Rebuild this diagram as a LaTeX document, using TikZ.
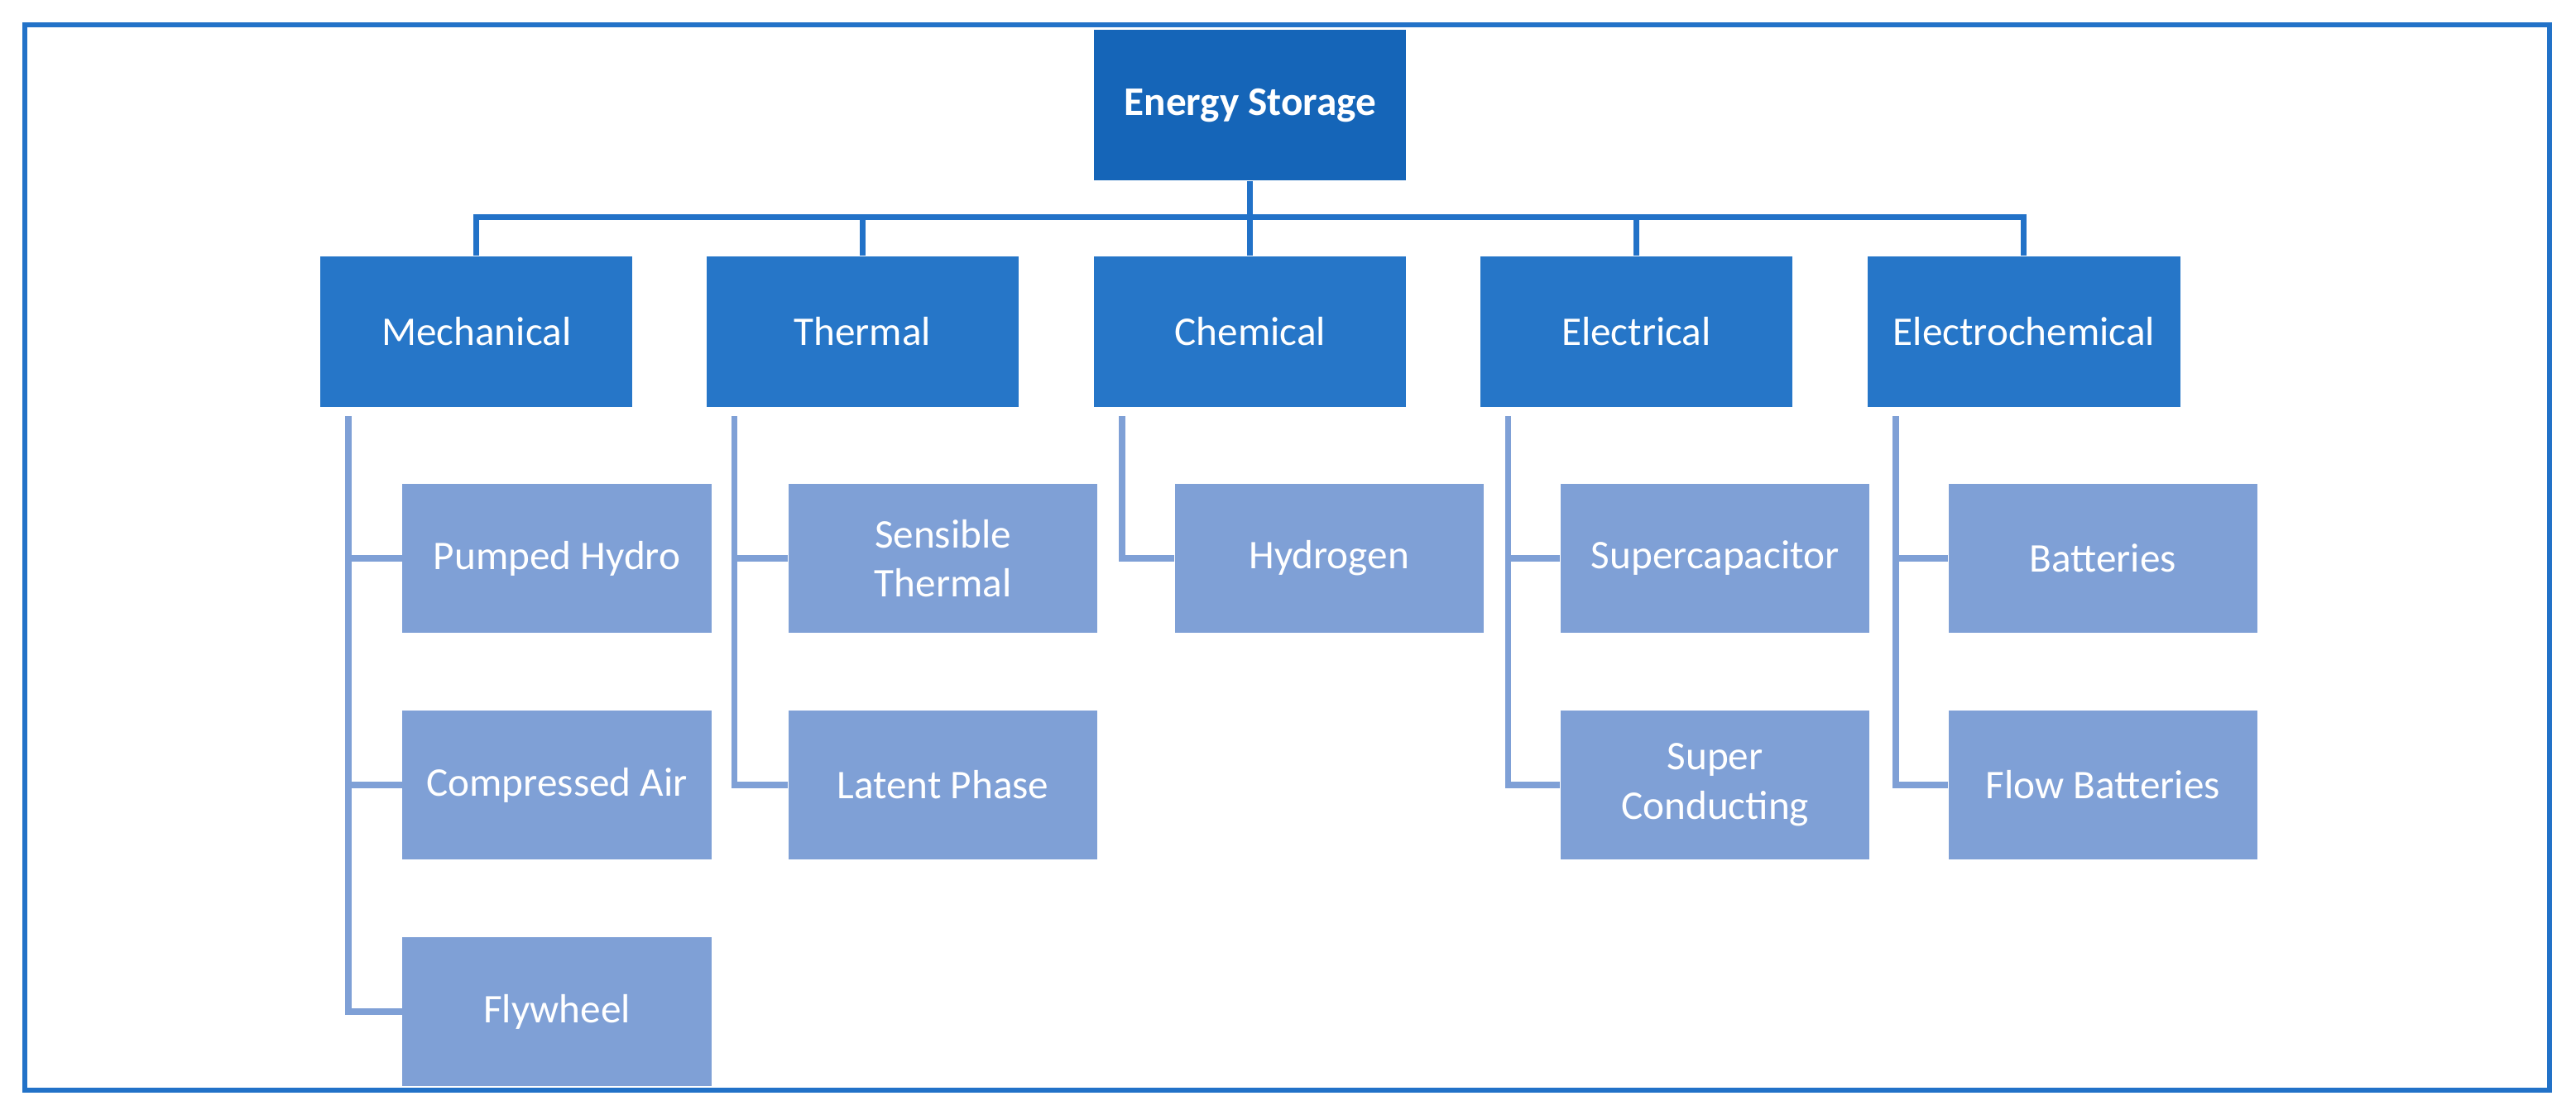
\documentclass[tikz,border=0pt]{standalone}
\usepackage{fontspec}
\setmainfont{Carlito}
\definecolor{rootblue}{HTML}{1565B8}
\definecolor{catblue}{HTML}{2676C8}
\definecolor{subblue}{HTML}{7FA0D6}
\definecolor{lineblue}{HTML}{2272C8}
\tikzset{
  root/.style={fill=rootblue, text=white, minimum width=190*0.01985cm, minimum height=92*0.01985cm, inner sep=0pt, font=\fontsize{14}{17}\selectfont\bfseries},
  cat/.style={fill=catblue, text=white, minimum width=190*0.01985cm, minimum height=92*0.01985cm, inner sep=0pt, font=\fontsize{14}{17}\selectfont},
  sub/.style={fill=subblue, text=white, minimum width=188*0.01985cm, minimum height=91*0.01985cm, inner sep=0pt, align=center, font=\fontsize{14}{17}\selectfont},
  bus/.style={lineblue, line width=2pt},
  spine/.style={subblue, line width=2.2pt}
}
\begin{document}
\begin{tikzpicture}[x=0.01985cm, y=-0.01985cm]
  \useasboundingbox (0,0) rectangle (1568,678.5);
  \draw [lineblue, line width=1.7pt] (15,15) rectangle (1552,664); % Frame.

  \node [root] (es) at (761,64) {Energy Storage};
  \node [cat] (mech) at (290,202) {Mechanical};
  \node [cat] (therm) at (525,202) {Thermal};
  \node [cat] (chem) at (761,202) {Chemical};
  \node [cat] (elec) at (996,202) {Electrical};
  \node [cat] (echem) at (1232,202) {Electrochemical};

  \coordinate (hub) at (761,132);
  \draw [bus] (es.south) -- (hub);
  \foreach \c in {mech,therm,chem,elec,echem}
    \draw [bus] (hub) -| (\c.north);

  \node [sub] (pumped) at (339,340) {Pumped Hydro};
  \node [sub] (air) at (339,478) {Compressed Air};
  \node [sub] (fly) at (339,616) {Flywheel};
  \node [sub] (sens) at (574,340) {Sensible\\Thermal};
  \node [sub] (latent) at (574,478) {Latent Phase};
  \node [sub] (hydro) at (809,340) {Hydrogen};
  \node [sub] (supcap) at (1044,340) {Supercapacitor};
  \node [sub] (supcon) at (1044,478) {Super\\Conducting};
  \node [sub] (batt) at (1280,340) {Batteries};
  \node [sub] (flow) at (1280,478) {Flow Batteries};

  % Spines from each category down to its children.
  \draw [spine] ([xshift=-78*0.01985cm, yshift=-5*0.01985cm]mech.south) |- (fly.west);
  \draw [spine] ([xshift=-78*0.01985cm]mech.south |- pumped.west) -- (pumped.west);
  \draw [spine] ([xshift=-78*0.01985cm]mech.south |- air.west) -- (air.west);
  \draw [spine] ([xshift=-78*0.01985cm, yshift=-5*0.01985cm]therm.south) |- (latent.west);
  \draw [spine] ([xshift=-78*0.01985cm]therm.south |- sens.west) -- (sens.west);
  \draw [spine] ([xshift=-78*0.01985cm, yshift=-5*0.01985cm]chem.south) |- (hydro.west);
  \draw [spine] ([xshift=-78*0.01985cm, yshift=-5*0.01985cm]elec.south) |- (supcon.west);
  \draw [spine] ([xshift=-78*0.01985cm]elec.south |- supcap.west) -- (supcap.west);
  \draw [spine] ([xshift=-78*0.01985cm, yshift=-5*0.01985cm]echem.south) |- (flow.west);
  \draw [spine] ([xshift=-78*0.01985cm]echem.south |- batt.west) -- (batt.west);
\end{tikzpicture}
\end{document}
